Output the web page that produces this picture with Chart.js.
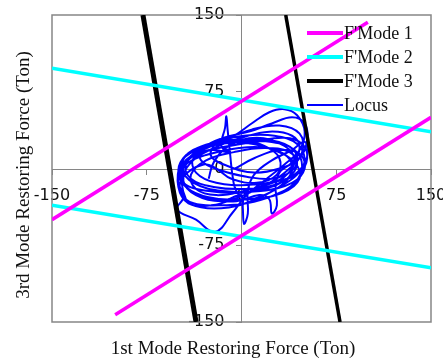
<!DOCTYPE html>
<html>
<head>
<meta charset="utf-8">
<title>Restoring force locus</title>
<script src="https://cdn.jsdelivr.net/npm/chart.js@4.4.1/dist/chart.umd.min.js"></script>
<style>
  html, body { margin: 0; padding: 0; background: #fff; }
  canvas { display: block; }
</style>
</head>
<body>
<canvas id="chart" width="443" height="360"></canvas>
<script>
// Axis limits and tick spacing (Ton)
const axisMin = -150;
const axisMax = 150;
const tickStep = 75;

// Failure-mode boundary lines, as [x, y] end points (1st mode, 3rd mode force)
const mode1Upper = [[-150, -50], [100, 143]];
const mode1Lower = [[-100, -143], [150, 50]];
const mode2Upper = [[-150, 98], [150, 36]];
const mode2Lower = [[-150, -36], [150, -97]];
const mode3Left  = [[-78, 150], [-36, -150]];
const mode3Right = [[35, 150], [78, -150]];

// Restoring force locus, [1st mode, 3rd mode] in time order
const locus = [
  [-5, 0], [10, 10], [30, 18], [46, 14], [50, 0], [40, -14], [15, -22], [-15, -22],
  [-38, -14], [-47, 0], [-42, 15], [-22, 24], [4, 25], [26, 18], [42, 6], [46, -10],
  [32, -24], [4, -30], [-26, -28], [-44, -18], [-49, -4], [-40, 12], [-18, 20], [10, 26],
  [34, 30], [48, 24], [52, 10], [46, -4], [30, -12], [6, -16], [-20, -14], [-36, -4],
  [-38, 10], [-24, 18], [-10, 16], [-16, 22], [-13, 40], [-12, 51], [-11, 38], [-9, 14],
  [-7, -8], [-4, -22], [4, -30], [18, -26], [32, -16], [40, -2], [36, 12], [20, 20],
  [-2, 20], [-26, 14], [-44, 4], [-50, -12], [-46, -28], [-51, -40], [-36, -50], [-21, -62],
  [-7, -43], [4, -26], [18, -12], [34, 4], [46, 18], [50, 36], [44, 52], [34, 58],
  [22, 55], [8, 44], [-6, 32], [-24, 22], [-40, 12], [-48, -4], [-42, -20], [-24, -30],
  [-4, -32], [14, -26], [22, -30], [24, -44], [28, -36], [27, -18], [30, -4], [40, 6],
  [46, 20], [40, 32], [22, 36], [0, 30], [-22, 20], [-40, 6], [-46, -12], [-36, -26],
  [-16, -32], [0, -26], [1, -38], [2, -54], [5, -44], [5, -22], [10, -6], [24, 8],
  [40, 18], [50, 26], [52, 12], [44, -4], [26, -16], [2, -20], [-22, -18], [-40, -10],
  [-44, 4], [-34, 18], [-12, 26], [14, 28], [34, 24], [44, 12], [40, -2], [24, -10],
  [4, -8], [-16, -2], [-32, 8], [-30, 20], [-14, 30], [6, 36], [24, 44], [40, 50],
  [50, 44], [52, 28], [46, 10], [30, 0], [10, -4], [-10, 2], [-24, 12], [-20, 24],
  [0, 28], [18, 22], [30, 10], [28, -6], [12, -14], [-8, -10], [-20, 0], [-30, 4],
  [-46, -8], [-48, -24], [-38, -34], [-18, -36], [4, -34], [26, -26], [42, -14], [48, 2],
  [42, 18], [24, 26], [0, 26], [-24, 22], [-44, 12], [-50, -2], [-44, -16], [-26, -22],
  [-4, -24], [18, -20], [36, -10], [44, 4], [38, 16], [18, 20], [-6, 16], [-28, 8],
  [-40, -6], [-36, -20], [-20, -26], [2, -22], [22, -14], [38, 0], [48, 16], [46, 34],
  [30, 42], [8, 38], [-14, 28], [-34, 16], [-46, 0], [-44, -30], [-32, -38], [-10, -38],
  [12, -30], [30, -18], [44, -6], [50, 8], [44, 24], [26, 32], [2, 32], [-20, 26],
  [-38, 18], [-48, 6], [-50, -18], [-42, -34], [-24, -36], [-2, -28], [16, -18], [34, -8],
  [42, 8], [34, 22], [12, 30], [-10, 22], [-22, 6], [-26, -10]
];

// Legend names
const seriesNames = ["F'Mode 1", "F'Mode 2", "F'Mode 3", "Locus"];

const MAGENTA = '#ff00ff';
const CYAN = '#00ffff';
const BLACK = '#000000';
const BLUE = '#0000ff';
const FRAME = '#868686';

const pts = arr => arr.map(([x, y]) => ({ x, y }));

function lineSet(label, data, color, width, inLegend) {
  return {
    label,
    data: pts(data),
    showLine: true,
    borderColor: color,
    backgroundColor: color,
    borderWidth: width,
    pointRadius: 0,
    pointHoverRadius: 0,
    tension: 0,
    fill: false,
    inLegend
  };
}

const datasets = [
  lineSet(seriesNames[0], mode1Upper, MAGENTA, 3.5, true),
  lineSet(seriesNames[0], mode1Lower, MAGENTA, 3.5, false),
  lineSet(seriesNames[1], mode2Upper, CYAN, 3.5, true),
  lineSet(seriesNames[1], mode2Lower, CYAN, 3.5, false),
  lineSet(seriesNames[2], mode3Left, BLACK, 5, true),
  lineSet(seriesNames[2], mode3Right, BLACK, 3.5, false),
  Object.assign(lineSet(seriesNames[3], locus, BLUE, 2, true), { tension: 0.4 })
];

// Gray frame around the plot area, axis titles and an in-plot legend
const decorations = {
  id: 'decorations',
  beforeDatasetsDraw(chart) {
    const { ctx, chartArea: a } = chart;
    ctx.save();
    ctx.strokeStyle = FRAME;
    ctx.lineWidth = 1.5;
    ctx.strokeRect(a.left, a.top, a.right - a.left, a.bottom - a.top);
    ctx.restore();
  },
  afterDraw(chart) {
    const { ctx } = chart;
    ctx.save();
    ctx.fillStyle = '#111';
    ctx.font = '19px "Liberation Serif", "Times New Roman", serif';
    ctx.textAlign = 'center';
    ctx.textBaseline = 'middle';
    ctx.fillText('1st Mode Restoring Force (Ton)', 233, 349);
    ctx.translate(24, 175);
    ctx.rotate(-Math.PI / 2);
    ctx.fillText('3rd Mode Restoring Force (Ton)', 0, 0);
    ctx.restore();

    // legend
    ctx.save();
    ctx.font = '18px "Liberation Serif", "Times New Roman", serif';
    ctx.textAlign = 'left';
    ctx.textBaseline = 'middle';
    let row = 0;
    chart.data.datasets.forEach(ds => {
      if (!ds.inLegend) return;
      const y = 33 + row * 24;
      ctx.strokeStyle = ds.borderColor;
      ctx.lineWidth = ds.label === 'Locus' ? 2 : 4;
      ctx.beginPath();
      ctx.moveTo(307, y);
      ctx.lineTo(343, y);
      ctx.stroke();
      ctx.fillStyle = '#111';
      ctx.fillText(ds.label, 344, y + 1);
      row++;
    });
    ctx.restore();
  }
};

const tickFont = { family: '"DejaVu Sans", sans-serif', size: 16 };

// Centered axes should not push the plot area inward for label overhang
function noOverhang(scale) {
  scale.paddingLeft = 0;
  scale.paddingRight = 0;
  scale.paddingTop = 0;
  scale.paddingBottom = 0;
}

new Chart(document.getElementById('chart'), {
  type: 'scatter',
  data: { datasets },
  options: {
    responsive: false,
    animation: false,
    devicePixelRatio: 1,
    layout: { padding: { left: 52, top: 15, right: 12, bottom: 38 } },
    plugins: {
      legend: { display: false },
      tooltip: { enabled: false }
    },
    scales: {
      x: {
        type: 'linear',
        position: 'center',
        min: axisMin,
        max: axisMax,
        afterFit: noOverhang,
        ticks: {
          stepSize: tickStep,
          color: '#111',
          font: tickFont,
          padding: 13,
          maxRotation: 0,
          autoSkip: false
        },
        grid: { drawOnChartArea: false, drawTicks: true, tickLength: 5, color: FRAME },
        border: { display: true, color: FRAME, width: 1 }
      },
      y: {
        type: 'linear',
        position: 'center',
        min: axisMin,
        max: axisMax,
        afterFit: noOverhang,
        ticks: {
          stepSize: tickStep,
          color: '#111',
          font: tickFont,
          padding: 12,
          autoSkip: false
        },
        grid: { drawOnChartArea: false, drawTicks: true, tickLength: 5, color: FRAME },
        border: { display: true, color: FRAME, width: 1 }
      }
    }
  },
  plugins: [decorations]
});
</script>
</body>
</html>
